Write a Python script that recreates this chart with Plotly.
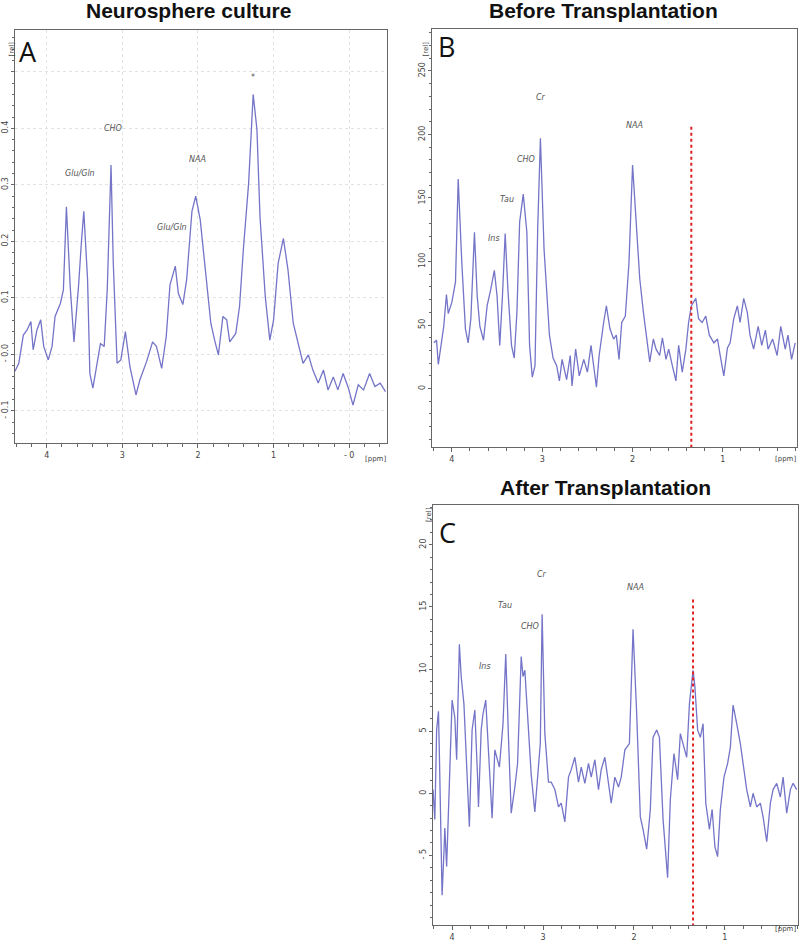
import plotly.graph_objects as go

# ---------------- Data ----------------
# Panel A: Neurosphere culture
a_ppm = [4.42, 4.37, 4.31, 4.26, 4.21, 4.18, 4.13, 4.08, 4.04, 3.98, 3.93, 3.89, 3.82, 3.78, 3.74,
         3.69, 3.64, 3.58, 3.54, 3.51, 3.46, 3.43, 3.39, 3.34, 3.29, 3.24, 3.20, 3.15, 3.12, 3.07,
         3.02, 2.96, 2.90, 2.82, 2.77, 2.68, 2.60, 2.55, 2.48, 2.42, 2.37, 2.30, 2.26, 2.20, 2.15,
         2.08, 2.03, 1.97, 1.91, 1.83, 1.78, 1.73, 1.67, 1.62, 1.58, 1.50, 1.45, 1.40, 1.33, 1.27,
         1.22, 1.18, 1.11, 1.07, 1.05, 1.00, 0.94, 0.87, 0.81, 0.74, 0.67, 0.61, 0.54, 0.48, 0.41,
         0.34, 0.28, 0.21, 0.15, 0.08, 0.01, -0.05, -0.12, -0.19, -0.27, -0.34, -0.41, -0.48]
a_val = [-0.030, -0.016, 0.034, 0.043, 0.058, 0.008, 0.043, 0.061, 0.014, -0.010, 0.014, 0.067,
         0.090, 0.114, 0.261, 0.120, 0.022, 0.120, 0.202, 0.253, 0.132, -0.034, -0.060, -0.019,
         0.019, 0.014, 0.114, 0.335, 0.161, -0.016, -0.010, 0.040, -0.022, -0.072, -0.046, -0.013,
         0.022, 0.014, -0.025, 0.031, 0.123, 0.156, 0.108, 0.088, 0.132, 0.253, 0.280, 0.238,
         0.161, 0.055, 0.025, -0.001, 0.067, 0.061, 0.022, 0.037, 0.085, 0.185, 0.303, 0.460,
         0.398, 0.244, 0.102, 0.049, 0.025, 0.061, 0.161, 0.205, 0.150, 0.055, 0.017, -0.016,
         -0.001, -0.028, -0.051, -0.028, -0.063, -0.040, -0.063, -0.034, -0.060, -0.090, -0.054,
         -0.063, -0.034, -0.057, -0.051, -0.066]

# Panel B: Before Transplantation
b_ppm = [4.20, 4.17, 4.15, 4.12, 4.09, 4.06, 4.04, 4.00, 3.96, 3.93, 3.89, 3.85, 3.82, 3.79, 3.75,
         3.72, 3.69, 3.65, 3.61, 3.57, 3.53, 3.50, 3.47, 3.44, 3.41, 3.38, 3.34, 3.31, 3.28, 3.25,
         3.21, 3.17, 3.14, 3.11, 3.08, 3.05, 3.02, 2.98, 2.95, 2.92, 2.88, 2.84, 2.81, 2.78, 2.73,
         2.69, 2.67, 2.63, 2.59, 2.54, 2.50, 2.46, 2.40, 2.37, 2.32, 2.29, 2.25, 2.21, 2.18, 2.15,
         2.12, 2.08, 2.04, 2.00, 1.96, 1.92, 1.88, 1.85, 1.81, 1.77, 1.74, 1.70, 1.67, 1.63, 1.60,
         1.56, 1.52, 1.49, 1.45, 1.41, 1.38, 1.35, 1.30, 1.27, 1.23, 1.19, 1.15, 1.10, 1.06, 1.03,
         0.99, 0.95, 0.92, 0.88, 0.84, 0.81, 0.77, 0.73, 0.70, 0.66, 0.61, 0.57, 0.53, 0.50, 0.45,
         0.40, 0.36, 0.31, 0.28, 0.24, 0.20]
b_val = [36, 38, 19, 35, 49, 74, 59, 68, 84, 165, 99, 47, 36, 55, 123,
         73, 49, 38, 65, 78, 93, 73, 34, 73, 122, 78, 34, 24, 60, 131,
         153, 123, 34, 9, 18, 126, 197, 110, 71, 42, 24, 18, 6, 23, 7,
         26, 2, 31, 10, 23, 13, 34, 1, 26, 52, 65, 47, 39, 42, 23,
         52, 57, 99, 176, 131, 86, 60, 42, 21, 39, 31, 26, 40, 23, 31,
         18, 6, 34, 13, 31, 52, 65, 71, 55, 52, 57, 42, 36, 39, 26,
         10, 32, 36, 55, 65, 52, 71, 60, 42, 31, 49, 34, 46, 31, 39,
         26, 49, 31, 42, 23, 36]

# Panel C: After Transplantation
c_ppm = [4.21, 4.19, 4.17, 4.15, 4.14, 4.11, 4.09, 4.08, 4.06, 4.03, 4.02, 4.00, 3.97, 3.95, 3.92,
         3.90, 3.87, 3.84, 3.81, 3.78, 3.75, 3.72, 3.71, 3.68, 3.66, 3.63, 3.60, 3.58, 3.56, 3.53,
         3.50, 3.48, 3.44, 3.41, 3.38, 3.35, 3.31, 3.28, 3.26, 3.24, 3.22, 3.20, 3.16, 3.13, 3.09,
         3.06, 3.03, 3.01, 2.98, 2.94, 2.91, 2.87, 2.83, 2.80, 2.76, 2.72, 2.69, 2.65, 2.61, 2.58,
         2.54, 2.50, 2.47, 2.43, 2.39, 2.36, 2.32, 2.28, 2.25, 2.21, 2.17, 2.14, 2.10, 2.05, 2.01,
         1.97, 1.93, 1.90, 1.86, 1.82, 1.79, 1.75, 1.72, 1.68, 1.63, 1.60, 1.56, 1.52, 1.49, 1.45,
         1.42, 1.39, 1.35, 1.33, 1.30, 1.27, 1.24, 1.21, 1.17, 1.14, 1.11, 1.08, 1.05, 1.01, 0.97,
         0.94, 0.91, 0.87, 0.83, 0.80, 0.76, 0.72, 0.69, 0.65, 0.61, 0.58, 0.54, 0.50, 0.47, 0.43,
         0.39, 0.36, 0.32, 0.28, 0.25, 0.21]
c_val = [0.3, -2.1, 5.1, 6.6, 3.2, -8.2, -4.8, -2.8, -5.9, 1.3, 1.9, 7.5, 6.1, 2.7, 12.0,
         9.4, 7.2, 2.7, -2.7, 5.1, 6.7, 1.3, -1.1, 5.1, 6.4, 7.5, 3.7, 1.3, -2.0, 3.5,
         2.7, 2.1, 5.6, 11.2, 4.5, -1.6, 0.5, 2.4, 6.7, 11.0, 9.4, 9.9, 5.1, 1.5, -1.5,
         1.1, 4.0, 14.4, 4.8, 0.9, 0.9, 0.3, -1.1, -0.8, -2.3, 1.3, 1.9, 2.9, 0.9, 2.1,
         0.8, 2.4, 1.3, 2.7, 0.3, 1.9, 2.9, 0.8, -0.8, 1.3, 0.5, 1.3, 3.5, 4.0, 13.2,
         6.4, -1.9, -2.9, -4.5, -1.3, 4.5, 5.1, 4.5, -2.1, -6.8, -0.5, 3.2, 1.1, 4.8, 3.7,
         2.9, 7.2, 9.9, 8.6, 5.1, 4.5, 5.6, -0.8, -2.9, -1.3, -4.3, -5.1, -1.3, 1.3, 2.4,
         3.7, 7.1, 5.6, 4.0, 2.4, 0.3, -1.1, 0.0, -1.1, -0.8, -1.9, -3.9, -0.8, 0.3, 0.8,
         -0.3, 1.3, -1.6, 0.3, 0.8, 0.3]

# tick labels
a_yticks = [0.5, 0.4, 0.3, 0.2, 0.1, 0.0, -0.1]
a_ytext = ["", "0.4", "0.3", "0.2", "0.1", "- 0.0", "- 0.1"]
a_xticks = [4, 3, 2, 1, 0]
a_xtext = ["4", "3", "2", "1", "- 0"]
b_yticks = [0, 50, 100, 150, 200, 250]
b_ytext = ["0", "50", "100", "150", "200", "250"]
c_yticks = [-5, 0, 5, 10, 15, 20]
c_ytext = ["- 5", "0", "5", "10", "15", "20"]
bc_xticks = [4, 3, 2, 1]
bc_xtext = ["4", "3", "2", "1"]

# peak labels: (text, ppm, value)
a_labels = [("Glu/Gln", 3.56, 0.320), ("CHO", 3.13, 0.400), ("NAA", 2.01, 0.345),
            ("Glu/Gln", 2.34, 0.225), ("*", 1.27, 0.490)]
b_labels = [("Cr", 3.01, 229), ("NAA", 1.98, 207), ("CHO", 3.18, 180),
            ("Tau", 3.39, 149), ("Ins", 3.53, 118)]
c_labels = [("Cr", 3.01, 17.6), ("NAA", 1.98, 16.6), ("Tau", 3.42, 15.1),
            ("CHO", 3.14, 13.4), ("Ins", 3.64, 10.2)]

marker_line = 1.35  # ppm position of red dashed marker
b_marker_top = 206
c_marker_top = 15.6

# ---------------- Figure ----------------
W, H = 800, 943
def px(x):
    return x / W
def py(y):
    return 1 - y / H

line_color = "#7474c8"
fig = go.Figure()
fig.add_trace(go.Scatter(x=a_ppm, y=a_val, mode="lines", line=dict(color=line_color, width=1.3),
                         xaxis="x", yaxis="y", showlegend=False, hoverinfo="skip"))
fig.add_trace(go.Scatter(x=b_ppm, y=b_val, mode="lines", line=dict(color=line_color, width=1.3),
                         xaxis="x2", yaxis="y2", showlegend=False, hoverinfo="skip"))
fig.add_trace(go.Scatter(x=c_ppm, y=c_val, mode="lines", line=dict(color=line_color, width=1.3),
                         xaxis="x3", yaxis="y3", showlegend=False, hoverinfo="skip"))

tickfont = dict(family="DejaVu Sans", size=8, color="#444")
frame = dict(showline=True, linecolor="#666", linewidth=1, mirror=True, zeroline=False)

def xax(domain, rng, vals, texts, grid=False, anchor="y"):
    return dict(domain=domain, range=rng, anchor=anchor, tickmode="array", tickvals=vals,
                ticktext=texts, ticks="outside", ticklen=4, tickcolor="#666", tickfont=tickfont,
                showgrid=grid, gridcolor="#e2e2e2", griddash="dot", gridwidth=1,
                minor=dict(tickmode="linear", tick0=0, dtick=0.2, ticks="outside", ticklen=3,
                           tickcolor="#666", showgrid=False),
                **frame)

def yax(domain, rng, vals, texts, mdt, grid=False, anchor="x"):
    return dict(domain=domain, range=rng, anchor=anchor, tickmode="array", tickvals=vals,
                ticktext=texts, ticks="outside", ticklen=3, tickcolor="#666", tickfont=tickfont,
                tickangle=-90, showgrid=grid, gridcolor="#e2e2e2", griddash="dot", gridwidth=1,
                minor=dict(tickmode="linear", tick0=0, dtick=mdt, ticks="outside", ticklen=2,
                           tickcolor="#666", showgrid=False),
                **frame)

fig.update_layout(
    width=W, height=H, margin=dict(l=0, r=0, t=0, b=0),
    paper_bgcolor="white", plot_bgcolor="white",
    xaxis=xax([px(15), px(387)], [4.42, -0.5], a_xticks, a_xtext, grid=True, anchor="y"),
    yaxis=yax([py(443), py(30)], [-0.157, 0.574], a_yticks, a_ytext, 0.02, grid=True, anchor="x"),
    xaxis2=xax([px(432), px(797)], [4.22, 0.18], bc_xticks, bc_xtext, anchor="y2"),
    yaxis2=yax([py(447), py(29)], [-46, 283], b_yticks, b_ytext, 10, anchor="x2"),
    xaxis3=xax([px(433), px(798)], [4.21, 0.196], bc_xticks, bc_xtext, anchor="y3"),
    yaxis3=yax([py(925), py(505)], [-10.6, 23.2], c_yticks, c_ytext, 1, anchor="x3"),
)

# red dashed marker lines
fig.add_shape(type="line", xref="x2", yref="y2", x0=marker_line, x1=marker_line,
              y0=b_marker_top, y1=-46, line=dict(color="#e02020", width=2, dash="dot"))
fig.add_shape(type="line", xref="x3", yref="y3", x0=marker_line, x1=marker_line,
              y0=c_marker_top, y1=-10.6, line=dict(color="#e02020", width=2, dash="dot"))

# titles
title_font = dict(family="Liberation Sans, Arial", size=21, color="#111")
for text, x, y in [("<b>Neurosphere culture</b>", 188, 11),
                   ("<b>Before Transplantation</b>", 603, 11),
                   ("<b>After Transplantation</b>", 605, 487)]:
    fig.add_annotation(text=text, x=px(x), y=py(y), xref="paper", yref="paper",
                       showarrow=False, font=title_font, xanchor="center", yanchor="middle")

# panel letters
letter_font = dict(family="Open Sans, Liberation Sans", size=27, color="#111")
for text, x, y in [("A", 28, 52), ("B", 446, 47), ("C", 447, 532)]:
    fig.add_annotation(text=text, x=px(x), y=py(y), xref="paper", yref="paper",
                       showarrow=False, font=letter_font, xanchor="center", yanchor="middle")

# [rel] / [ppm] axis unit labels
unit_font = dict(family="DejaVu Sans", size=7, color="#444")
for x, y in [(5, 40), (425, 40), (429, 515)]:
    fig.add_annotation(text="[rel]", x=px(x), y=py(y), xref="paper", yref="paper",
                       showarrow=False, font=unit_font, textangle=-90)
for x, y in [(388, 459), (798, 459), (798, 935)]:
    fig.add_annotation(text="[ppm]", x=px(x), y=py(y), xref="paper", yref="paper",
                       showarrow=False, font=unit_font, xanchor="right")

# peak labels
lab_font = dict(family="DejaVu Sans", size=8, color="#555")
for axes, labels in [(("x", "y"), a_labels), (("x2", "y2"), b_labels), (("x3", "y3"), c_labels)]:
    for text, x, y in labels:
        t = text if text == "*" else "<i>" + text + "</i>"
        fig.add_annotation(text=t, x=x, y=y, xref=axes[0], yref=axes[1], showarrow=False,
                           font=lab_font)

# remove the default page margin so the 800x943 figure fills the window exactly
fig.write_html("out.html", config={"displayModeBar": False},
               post_script="document.body.style.margin='0';document.body.style.overflow='hidden';")
